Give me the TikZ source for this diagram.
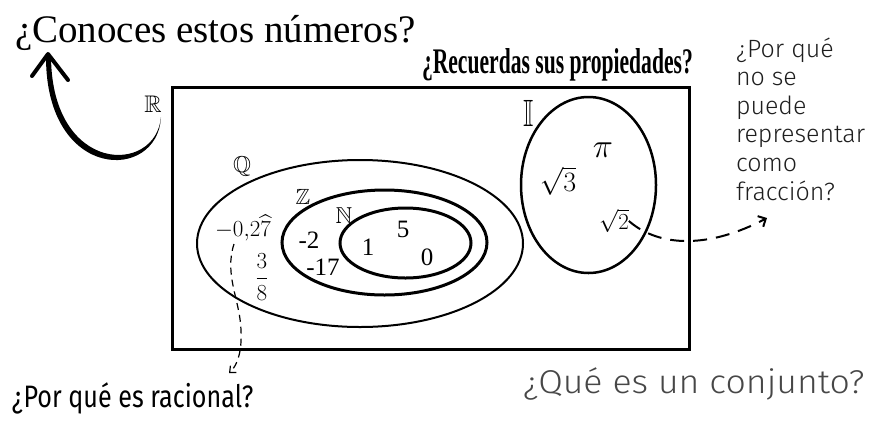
\RequirePackage{fix-cm}
\documentclass[tikz,border=0pt]{standalone}
\usepackage{amsmath}
\usepackage{amssymb}
\DeclareFontFamily{U}{msb}{}
\DeclareFontShape{U}{msb}{m}{n}{<-6> msbm5 <6-8> msbm7 <8-> msbm10}{}
\usepackage{fontspec}
\usepackage{graphicx}
\setmainfont{Liberation Serif}
\newfontfamily\firalight{Fira Sans Light}
\newfontfamily\fira{Fira Sans}
\usetikzlibrary{arrows.meta,shapes.geometric}
\definecolor{textgray}{HTML}{474747}
\definecolor{handgray}{HTML}{1E1E1E}
\begin{document}
\begin{tikzpicture}[x=1pt,y=-1pt,
  txt/.style={inner sep=0pt, outer sep=0pt},
  setline/.style={draw=black, ellipse, inner sep=0pt, outer sep=0pt},
  dashconn/.style={draw=black, line width=1.2pt, dash pattern=on 7pt off 5pt},
  dashconnb/.style={draw=black, line width=2pt, dash pattern=on 14pt off 9pt},
  sz/.style={font=\fontsize{#1}{#1}\selectfont}
]
\useasboundingbox (0,0) rectangle (874,421);

% titles
\node[txt, anchor=base west, sz=39] (title) at (15,42) {¿Conoces estos números?};
\node[txt, anchor=base west] (recu) at (422,73) {\scalebox{0.6}[1]{\bfseries\fontsize{36}{40}\selectfont ¿Recuerdas sus propiedades?}};

% universe rectangle
\node[draw, line width=3pt, minimum width=517pt, minimum height=262pt, inner sep=0pt] (U) at (430.5,218) {};

% sets
\node[setline, line width=2pt, minimum width=326pt, minimum height=167pt] (Q) at (360,243.5) {};
\node[setline, line width=3pt, minimum width=205pt, minimum height=105pt] (Z) at (384.5,242.5) {};
\node[setline, line width=3pt, minimum width=131pt, minimum height=70pt] (N) at (405.5,243) {};
\node[setline, line width=2.5pt, minimum width=135pt, minimum height=176pt] (I) at (588.5,185) {};

% set labels
\node[txt, sz=24] (lR) at (153,104) {$\mathbb{R}$};
\node[txt, sz=23] (lQ) at (242,166) {$\mathbb{Q}$};
\node[txt, sz=22] (lZ) at (303,197) {$\mathbb{Z}$};
\node[txt, sz=23] (lN) at (344,216) {$\mathbb{N}$};
\node[txt, sz=38] (lI) at (529,113) {\scalebox{0.7}[1]{$\mathbb{I}$}};

% elements
\node[txt, sz=23] (q1) at (243,228) {$-0{,}2\widehat{7}$};
\node[txt, sz=23] (q2) at (262,277) {$\dfrac{3}{8}$};
\node[txt, sz=25] (z1) at (309,240) {-2};
\node[txt, sz=25] (z2) at (323,267) {-17};
\node[txt, sz=25] (n1) at (368,247) {1};
\node[txt, sz=25] (n2) at (403,229) {5};
\node[txt, sz=25] (n3) at (427,257) {0};
\node[txt, sz=34] (i1) at (603,150) {$\pi$};
\node[txt, sz=28] (i2) at (558,181) {$\sqrt{3}$};
\node[txt, sz=23] (i3) at (614,221) {$\sqrt{2}$};

% side questions
\foreach \t [count=\k from 0] in {¿Por qué, no se, puede, representar, como, fracción?}{
  \node[txt, anchor=base west, sz=25, text=handgray] (side\k) at (736,57+28.6*\k) {\firalight\t};
}
\node[txt, anchor=base west, text=black] (racional) at (12,407) {\scalebox{0.81}[1]{\fira\fontsize{31}{34}\selectfont ¿Por qué es racional?}};
\node[txt, anchor=base west, text=textgray] (conj) at (523,393) {\scalebox{1.08}[1]{\firalight\fontsize{33}{36}\selectfont ¿Qué es un conjunto?}};

% dashed connectors
\coordinate (c1) at (229,373);
\draw[dashconn, -{Straight Barb[length=5pt,width=9pt]}] (234,244) .. controls (224,275) and (240,300) .. (241,330) .. controls (242,350) and (238,365) .. (c1);
\coordinate (c2) at (767,218);
\draw[dashconnb, -{Straight Barb[length=6pt,width=12pt]}] (i3.east) .. controls (660,248) and (710,248) .. (c2);

% big curved arrow
\fill[black] (161,117) .. controls (158,182) and (46,182) .. (46,57)
  -- (51,57) .. controls (52,175) and (156,175) .. (161,117) -- cycle;
\coordinate (tip) at (48,54);
\draw[line width=4pt, line cap=round, line join=round] (32,76) -- (tip) -- (68,80);
\end{tikzpicture}
\end{document}
